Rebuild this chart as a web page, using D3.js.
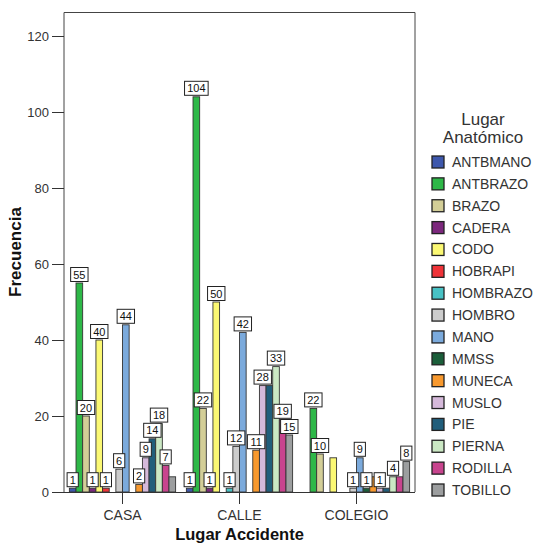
<!DOCTYPE html>
<html><head><meta charset="utf-8">
<script src="https://cdn.jsdelivr.net/npm/d3@7"></script>
<style>
body{margin:0;background:#fff;}
text{font-family:"Liberation Sans",Arial,sans-serif;}
</style></head>
<body><svg id="chart" width="537" height="544"></svg>
<script>
const categories = ["CASA","CALLE","COLEGIO"];
const series = ["ANTBMANO","ANTBRAZO","BRAZO","CADERA","CODO","HOBRAPI","HOMBRAZO","HOMBRO","MANO","MMSS","MUNECA","MUSLO","PIE","PIERNA","RODILLA","TOBILLO"];
const casaValues    = [1,55,20,1,40,1,0,6,44,0,2,9,14,18,7,4];
const calleValues   = [1,104,22,1,50,0,1,12,42,0,11,28,28,33,19,15];
const colegioValues = [0,22,10,0,9,0,0,1,9,1,4,1,1,4,4,8];
const colors = ["#3E58AC","#2EB848","#D3CE97","#7C287D","#FBF873","#EF3338","#48C2C5","#CCCCCC","#7BAADC","#1B5E3A","#F8992E","#D5B9DA","#215E7B","#CBE8C4","#C8448E","#9C9E9F"];
const yTicks = [0,20,40,60,80,100,120];

const values = [casaValues, calleValues, colegioValues];
const svg = d3.select("#chart");
const mLeft = 64, mRight = 415, mTop = 12.5, mBottom = 492;

const x0 = d3.scaleBand().domain(categories).range([mLeft, mRight]).paddingInner(0).paddingOuter(0);
const x1 = d3.scaleBand().domain(series)
  .range([x0.bandwidth()*0.046, x0.bandwidth()*(1-0.046)]).paddingInner(0).paddingOuter(0);
const y = d3.scaleLinear().domain([0, 120]).range([mBottom, 36]);
const color = d3.scaleOrdinal().domain(series).range(colors);

// frame
svg.append("path")
  .attr("d", `M${mLeft},${mBottom}V${mTop}H${mRight}V${mBottom}`)
  .attr("fill","none").attr("stroke","#444").attr("stroke-width",1);

// bars
const groups = svg.selectAll("g.grp").data(categories).join("g")
  .attr("class","grp").attr("transform", d => `translate(${x0(d)},0)`);
groups.each(function(cat, ci){
  const g = d3.select(this);
  series.forEach((s, si) => {
    const v = values[ci][si];
    if (v <= 0) return;
    g.append("rect")
      .attr("x", x1(s)).attr("width", x1.bandwidth())
      .attr("y", y(v)).attr("height", y(0) - y(v))
      .attr("fill", color(s)).attr("stroke","#333").attr("stroke-width",0.9);
  });
});

// y axis
const yAxis = d3.axisLeft(y).tickValues(yTicks).tickSize(12).tickPadding(3);
const ya = svg.append("g").attr("transform",`translate(${mLeft},0)`).call(yAxis);
ya.select(".domain").remove();
ya.selectAll("line").attr("stroke","#333");
ya.selectAll("text").attr("font-size",13).attr("fill","#333").attr("font-family","Liberation Sans, Arial");

// x axis
const xAxis = d3.axisBottom(x0).tickSize(12).tickPadding(6);
const xa = svg.append("g").attr("transform",`translate(0,${mBottom})`).call(xAxis);
xa.select(".domain").attr("d", `M${mLeft-12},0.5H${mRight}`).attr("stroke","#333");
xa.selectAll("line").attr("stroke","#333");
xa.selectAll("text").attr("font-size",14).attr("fill","#333").attr("font-family","Liberation Sans, Arial");

// value labels with overlap hiding
const placed = [];
const labelLayer = svg.append("g");
categories.forEach((cat, ci) => {
  series.forEach((s, si) => {
    const v = values[ci][si];
    if (v <= 0) return;
    const cx = x0(cat) + x1(s) + x1.bandwidth()/2;
    const txt = String(v);
    const w = txt.length * 6.2 + 5;
    const h = 14;
    const box = {x0: cx - w/2, x1: cx + w/2, y1: y(v) - 1.5, y0: y(v) - 1.5 - h};
    const clash = placed.some(b => b.x0 < box.x1 && box.x0 < b.x1 && b.y0 < box.y1 && box.y0 < b.y1);
    if (clash) return;
    placed.push(box);
    labelLayer.append("rect")
      .attr("x", box.x0).attr("y", box.y0).attr("width", w).attr("height", h)
      .attr("fill","#fff").attr("stroke","#222").attr("stroke-width",1);
    labelLayer.append("text")
      .attr("x", cx).attr("y", box.y1 - 3)
      .attr("text-anchor","middle").attr("font-size",11).attr("fill","#111")
      .text(txt);
  });
});

// axis titles
svg.append("text").attr("x", x0("CALLE") + x0.bandwidth()/2).attr("y", 540)
  .attr("text-anchor","middle").attr("font-size",16.5).attr("font-weight","bold").attr("fill","#111")
  .text("Lugar Accidente");
svg.append("text").attr("transform","translate(21,252) rotate(-90)")
  .attr("text-anchor","middle").attr("font-size",17).attr("font-weight","bold").attr("fill","#111")
  .text("Frecuencia");

// legend
const lg = svg.append("g");
lg.append("text").attr("x",483).attr("y",125).attr("text-anchor","middle").attr("font-size",17).attr("fill","#333").text("Lugar");
lg.append("text").attr("x",483).attr("y",143).attr("text-anchor","middle").attr("font-size",17).attr("fill","#333").text("Anatómico");
const step = (490 - 162) / (series.length - 1);
series.forEach((s, i) => {
  const cy = 162 + i * step;
  lg.append("rect").attr("x",432).attr("y",cy-6).attr("width",12).attr("height",12)
    .attr("fill", color(s)).attr("stroke","#222").attr("stroke-width",1.3);
  lg.append("text").attr("x",452).attr("y",cy+5).attr("font-size",14).attr("fill","#333").text(s);
});
</script></body></html>
